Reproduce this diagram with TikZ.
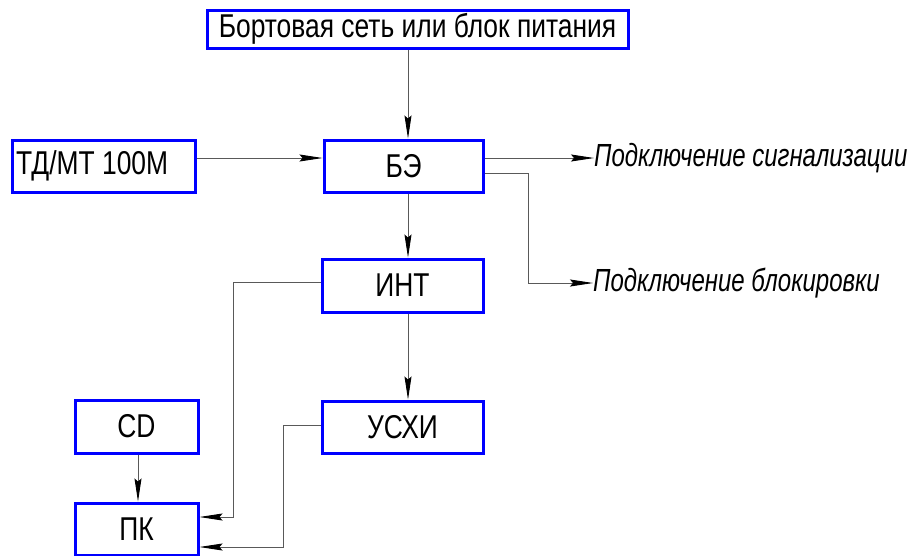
\documentclass[tikz,border=0pt]{standalone}
\usepackage{fontspec}
\newfontfamily\gost[FakeStretch=0.8]{Liberation Sans}
\newfontfamily\gostit[FakeStretch=0.75]{Liberation Sans}
\usetikzlibrary{arrows.meta}
\begin{document}
\begin{tikzpicture}[x=1pt,y=-1pt,
  blk/.style={draw=blue,line width=3pt,fill=white,inner sep=0pt,
    font=\gost\fontsize{33}{34}\selectfont},
  conn/.style={draw=black!65,line width=0.9pt},
  arr/.style={conn,-{Stealth[length=23pt,width=7pt,inset=3pt,color=black]}},
  lbl/.style={anchor=west,inner sep=0pt,font=\gostit\itshape\fontsize{32}{33}\selectfont}]
\useasboundingbox (0,0) rectangle (912,555);
\node[blk,minimum width=421pt,minimum height=38pt] (top) at (417.5,29) {Бортовая сеть или блок питания};
\node[blk,minimum width=159pt,minimum height=52pt] (be) at (403.5,166) {БЭ};
\node[blk,minimum width=183pt,minimum height=52pt] (td) at (103.5,166) {};
\node[anchor=west,inner sep=0pt,font=\gost\fontsize{33}{34}\selectfont] (tdt) at (16,166) {ТД/МТ 100М};
\node[blk,minimum width=161pt,minimum height=53pt] (int) at (402.5,285.5) {ИНТ};
\node[blk,minimum width=161pt,minimum height=52pt] (usx) at (402.5,427) {УСХИ};
\node[blk,minimum width=123pt,minimum height=53pt] (cd) at (136.5,426.5) {CD};
\node[blk,minimum width=123pt,minimum height=52pt] (pk) at (136.5,529) {ПК};
\node[lbl] (sig) at (594,158) {Подключение сигнализации};
\node[lbl] (blk) at (593,283) {Подключение блокировки};
\coordinate (spine) at (408,0);
\coordinate (cdx) at (138,0);
\coordinate (b1) at (528,173);
\coordinate (i1) at (233,282);
\coordinate (u1) at (283,425);
\draw[arr] (top.south -| spine) -- (be.north -| spine);
\draw[arr] (td.east |- 0,158) -- (be.west |- 0,158);
\draw[arr] (be.east |- sig.west) -- (sig.west);
\draw[arr] (be.east |- b1) -- (b1) -- (b1 |- blk.west) -- (blk.west);
\draw[arr] (be.south -| spine) -- (int.north -| spine);
\draw[arr] (int.south -| spine) -- (usx.north -| spine);
\draw[arr] (cd.south -| cdx) -- (pk.north -| cdx);
\draw[arr] (int.west |- i1) -- (i1) -- (i1 |- 0,517) -- (pk.east |- 0,517);
\draw[arr] (usx.west |- u1) -- (u1) -- (u1 |- 0,547) -- (pk.east |- 0,547);
\end{tikzpicture}
\end{document}
